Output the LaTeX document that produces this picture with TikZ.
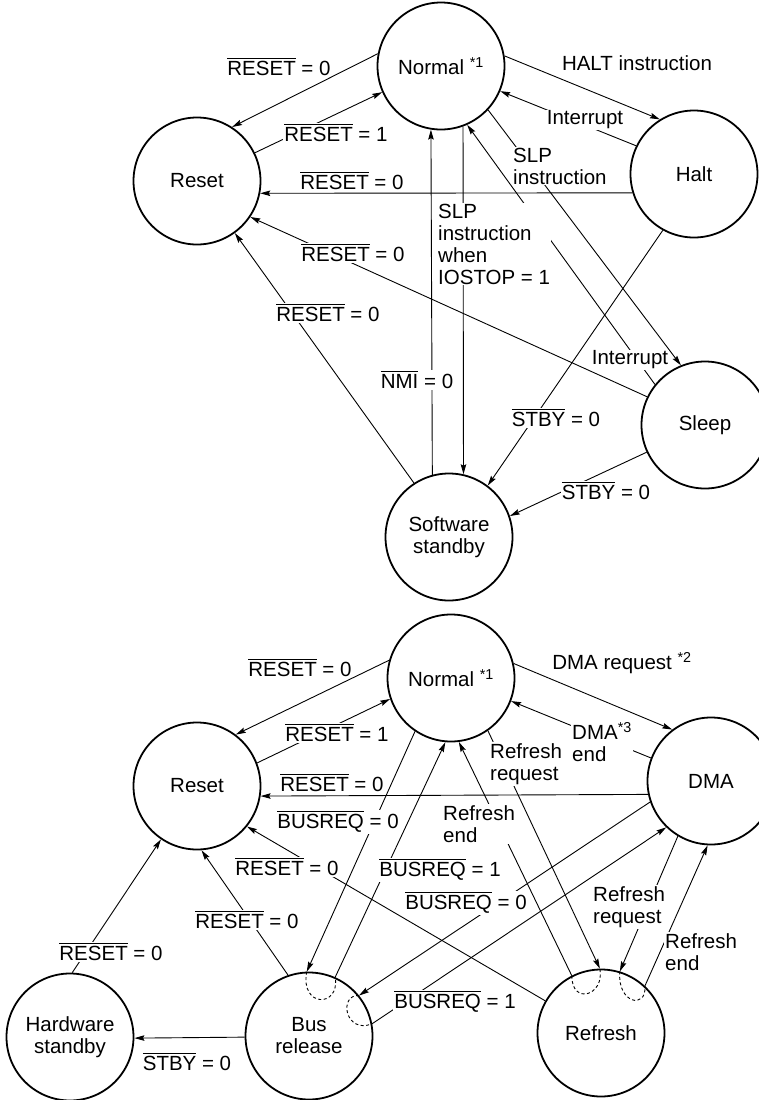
\documentclass[tikz,border=0pt]{standalone}
\usepackage{fontspec}
\setmainfont{Liberation Sans}
\usetikzlibrary{arrows.meta}
\newcommand\ovl[1]{\vbox{\hrule height 1bp\kern 2bp\hbox{#1}}}
\newcommand\sstar[1]{\textsuperscript{*#1}}
\newcommand\fs{\fontsize{20.5bp}{22bp}\selectfont}
\begin{document}
\begin{tikzpicture}[x=1bp,y=-1bp,
  state/.style={circle,draw,line width=1.8bp,minimum size=127bp,inner sep=0pt,align=center,font=\fs},
  arr/.style={line width=0.9bp,-{Stealth[length=10bp,width=5.5bp,inset=1.5bp]}},
  lbl/.style={inner sep=1bp,font=\fs,align=left},
  lblw/.style={lbl,fill=white},
  loopd/.style={line width=0.9bp,dash pattern=on 3bp off 2.5bp}]
\useasboundingbox (0,0) rectangle (759,1100);

% ---------- top diagram ----------
\node[state] (N1) at (441,66) {Normal \sstar{1}};
\node[state] (R1) at (197,181) {Reset};
\node[state] (H) at (694,174) {Halt};
\node[state] (S) at (705,425) {Sleep};
\node[state] (SS) at (449,537) {Software\\standby};

\draw[arr] (N1.169) -- (R1.57.5);
\draw[arr] (R1.26.6) -- (N1.204.7);
\draw[arr] (H.197.4) -- (R1.349.1);
\draw[arr] (S.154.2) -- (R1.326.5);
\draw[arr] (SS.123.2) -- (R1.306.5);
\draw[arr] (N1.9.8) -- (H.122.7);
\draw[arr] (H.154.7) -- (N1.337.3);
\draw[arr] (N1.317.9) -- (S.112);
\draw[arr] (S.141.3) -- (N1.294.8);
\draw[arr] (N1.290.1) -- (SS.77.4);
\draw[arr] (SS.105.4) -- (N1.261.9);
\draw[arr] (H.241.1) -- (SS.53.3);
\draw[arr] (S.205.8) -- (SS.19);

\node[lbl] (t1) at (279,67) {\ovl{RESET} = 0};
\node[lblw] (t2) at (336,133) {\ovl{RESET} = 1};
\node[lbl] (t3) at (352,181) {\ovl{RESET} = 0};
\node[lblw] (t4) at (353,253) {\ovl{RESET} = 0};
\node[lblw] (t5) at (328,313) {\ovl{RESET} = 0};
\node[lbl] (t6) at (637,63) {HALT instruction};
\node[lblw] (t7) at (585,120) {Interrupt};
\node[lblw,anchor=west] (t8) at (512,166) {SLP\\instruction};
\node[lblw] (t9) at (630,360) {Interrupt};
\node[lblw,anchor=west] (t10) at (437,244) {SLP\\instruction\\when\\IOSTOP = 1};
\node[lblw] (t11) at (417,380) {\ovl{NMI} = 0};
\node[lblw] (t12) at (556,418) {\ovl{STBY} = 0};
\node[lblw] (t13) at (606,491) {\ovl{STBY} = 0};

% ---------- bottom diagram ----------
\node[state] (N2) at (451,678) {Normal \sstar{1}};
\node[state] (R2) at (197,786) {Reset};
\node[state] (D) at (711,781) {DMA};
\node[state] (BR) at (309,1036) {Bus\\release};
\node[state] (HW) at (70,1037) {Hardware\\standby};
\node[state] (RF) at (601,1033) {Refresh};

\draw[arr] (N2.164.1) -- (R2.53.8);
\draw[arr] (R2.21.8) -- (N2.199.3);
\draw[arr] (D.192.6) -- (R2.351.9);
\draw[arr] (N2.236.8) -- (BR.92);
\draw[arr] (BR.66) -- (N2.265);
\draw[arr] (D.199) -- (BR.39);
\draw[arr] (BR.11) -- (D.226.1);
\draw[arr] (N2.305.8) -- (RF.91);
\draw[arr] (RF.117) -- (N2.277.9);
\draw[arr] (D.239.9) -- (RF.73);
\draw[arr] (RF.47) -- (D.267.3);
\draw[arr] (RF.150.1) -- (R2.321.6);
\draw[arr] (BR.109) -- (R2.274.3);
\draw[arr] (HW.88.2) -- (R2.236.5);
\draw[arr] (BR.181.8) -- (HW.359.1);
\draw[arr] (N2.13.6) -- (D.127.2);
\draw[arr] (D.159.4) -- (N2.339.4);

\draw[loopd] (BR.92) .. controls +(-7,36) and +(5,31) .. (BR.66);
\draw[loopd] (BR.39) .. controls +(-21,-1) and +(-27,11) .. (BR.11);
\draw[loopd] (RF.117) .. controls +(0,30) and +(5,27) .. (RF.91);
\draw[loopd] (RF.73) .. controls +(-3,32) and +(2,24) .. (RF.47);

\node[lbl] (b1) at (300,668) {\ovl{RESET} = 0};
\node[lblw] (b2) at (337,733) {\ovl{RESET} = 1};
\node[lbl] (b3) at (332,783) {\ovl{RESET} = 0};
\node[lblw] (b4) at (338,822) {\ovl{BUSREQ} = 0};
\node[lblw] (b5) at (287,867) {\ovl{RESET} = 0};
\node[lblw] (b6) at (247,920) {\ovl{RESET} = 0};
\node[lblw] (b7) at (111,952) {\ovl{RESET} = 0};
\node[lbl] (b8) at (187,1062) {\ovl{STBY} = 0};
\node[lbl] (b9) at (622,663) {DMA request \sstar{2}};
\node[lblw,anchor=west] (b10) at (571,742) {DMA\sstar{3}\\end};
\node[lblw,anchor=west] (b11) at (489,764) {Refresh\\request};
\node[lblw,anchor=west] (b12) at (442,824) {Refresh\\end};
\node[lblw] (b13) at (440,870) {\ovl{BUSREQ} = 1};
\node[lblw] (b14) at (466,903) {\ovl{BUSREQ} = 0};
\node[lblw] (b15) at (455,1002) {\ovl{BUSREQ} = 1};
\node[lblw,anchor=west] (b16) at (592,907) {Refresh\\request};
\node[lblw,anchor=west] (b17) at (664,952) {Refresh\\end};
\end{tikzpicture}
\end{document}
